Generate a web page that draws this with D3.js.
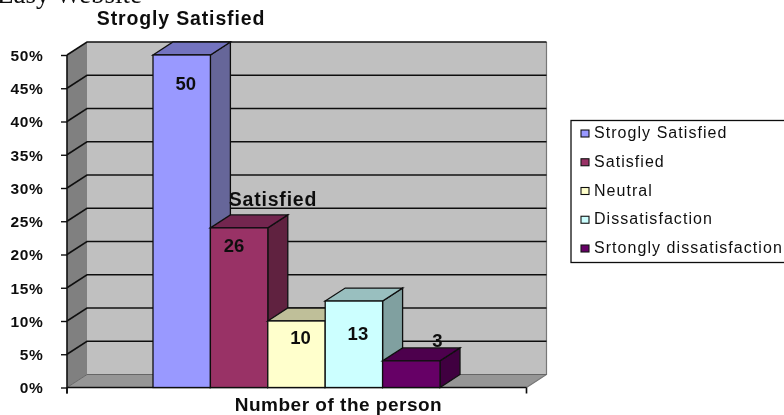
<!DOCTYPE html>
<html><head><meta charset="utf-8">
<script src="https://cdn.jsdelivr.net/npm/d3@7"></script>
<style>html,body{margin:0;padding:0;background:#fff}svg{display:block}text{font-family:"Liberation Sans",Arial,sans-serif}</style>
</head><body><svg id="c" width="784" height="415"></svg>
<script>
const categories=["Strogly Satisfied","Satisfied","Neutral","Dissatisfaction","Srtongly dissatisfaction"];
const barValues=[50,24,10,13,4];
const valueLabels=[50,26,10,13,3];
const yTicks=[0,5,10,15,20,25,30,35,40,45,50];
const frontColors=["#9999ff","#993366","#ffffcc","#ccffff","#660066"];
const topColors=["#7373bf","#732650","#bfbf99","#99bfbf","#4d004d"];
const sideColors=["#666699","#602040","#a0a080","#80a0a0","#400040"];
const calloutLabels=[{cat:0,text:"Strogly Satisfied"},{cat:1,text:"Satisfied"}];

const svg=d3.select("#c");
const defs=svg.append("defs");
defs.append("filter").attr("id","soft").attr("filterUnits","userSpaceOnUse").attr("x",-20).attr("y",-20).attr("width",830).attr("height",460)
  .append("feGaussianBlur").attr("stdDeviation",0.55);
const root=svg.append("g").attr("filter","url(#soft)");

const dx=20,dy=-13;
const y=d3.scaleLinear().domain([0,50]).range([387.5,55]);
const x=d3.scaleBand().domain(categories).range([153,440]).padding(0);
const xL=67,xR=526.5;
const line=d3.line();
const poly=(g,pts,fill,stroke,w)=>g.append("path").attr("d",line(pts)+"Z").attr("fill",fill)
  .attr("stroke",stroke||"none").attr("stroke-width",w||0);

// Clipped page text at the very top
root.append("text").attr("x",-3).attr("y",3).attr("font-size",27).style("font-family","Liberation Serif")
  .attr("fill","#111").text("Easy Website");

// Walls and floor
poly(root,[[xL+dx,y(50)+dy],[xR+dx,y(50)+dy],[xR+dx,y(0)+dy],[xL+dx,y(0)+dy]],"#c0c0c0");
poly(root,[[xL,y(50)],[xL+dx,y(50)+dy],[xL+dx,y(0)+dy],[xL,y(0)]],"#808080");
poly(root,[[xL,y(0)],[xL+dx,y(0)+dy],[xR+dx,y(0)+dy],[xR,y(0)]],"#969696");
root.append("path").attr("d",line([[xR+dx,y(50)+dy],[xR+dx,y(0)+dy],[xR,y(0)]])).attr("fill","none").attr("stroke","#777").attr("stroke-width",1.2);

// Gridlines along side wall and back wall
yTicks.forEach(t=>{
  root.append("path").attr("fill","none").attr("stroke",t===0?"#666":"#111").attr("stroke-width",t===0?1:1.6)
    .attr("d",line([[xL,y(t)],[xL+dx,y(t)+dy],[xR+dx,y(t)+dy]]));
});

// Axes
const yAxis=d3.axisLeft(y).tickValues(yTicks).tickSize(6).tickFormat(d=>d+"%");
const ya=root.append("g").attr("transform",`translate(${xL},0)`).call(yAxis);
ya.select(".domain").attr("stroke","#111").attr("stroke-width",1.6).attr("d",`M0,${y(50)}V${y(0)+6}`);
ya.selectAll(".tick line").attr("stroke","#111").attr("stroke-width",1.4);
ya.selectAll(".tick text").attr("x",-23.5).attr("text-anchor","end").attr("font-size",15.5).attr("font-weight","bold")
  .attr("fill","#111").style("font-family","Liberation Sans").attr("letter-spacing",0.7).attr("dy","0.34em");
const xa=root.append("g").attr("transform",`translate(0,${y(0)})`);
xa.append("path").attr("fill","none").attr("stroke","#111").attr("stroke-width",1.6)
  .attr("d",`M${xL},0H${xR}M${xR},0V6M${xL},0V6`);

// Bars drawn left to right
const bars=root.selectAll("g.bar").data(categories).join("g").attr("class","bar");
bars.each(function(c,i){
  const g=d3.select(this), x0=x(c), x1=x0+x.bandwidth(), yt=y(barValues[i]), yb=y(0), k="#111";
  poly(g,[[x1,yt],[x1+dx,yt+dy],[x1+dx,yb+dy],[x1,yb]],sideColors[i],k,1.3);
  poly(g,[[x0,yt],[x0+dx,yt+dy],[x1+dx,yt+dy],[x1,yt]],topColors[i],k,1.3);
  g.append("rect").attr("x",x0).attr("y",yt).attr("width",x.bandwidth()).attr("height",yb-yt)
    .attr("fill",frontColors[i]).attr("stroke",k).attr("stroke-width",1.3);
});

// Value labels
const labelDy=[35,24,23,39,-14];
const labelDx=[4,-5,4,4,26];
root.selectAll("text.val").data(valueLabels).join("text").attr("class","val")
  .attr("x",(d,i)=>x(categories[i])+x.bandwidth()/2+labelDx[i])
  .attr("y",(d,i)=>y(barValues[i])+labelDy[i])
  .attr("text-anchor","middle").attr("font-size",18.5).attr("font-weight","bold").attr("fill","#111").text(d=>d);

// Series callouts and titles
root.append("text").attr("x",181).attr("y",25).attr("text-anchor","middle").attr("font-size",19.5).attr("font-weight","bold").attr("fill","#111").attr("letter-spacing",0.85).text(calloutLabels[0].text);
root.append("text").attr("x",273).attr("y",206).attr("text-anchor","middle").attr("font-size",19.5).attr("font-weight","bold").attr("fill","#111").attr("letter-spacing",0.8).text(calloutLabels[1].text);
root.append("text").attr("x",338.5).attr("y",411).attr("text-anchor","middle").attr("font-size",19).attr("font-weight","bold").attr("fill","#111").attr("letter-spacing",0.5).text("Number of the person");

// Legend
const lg=root.append("g");
lg.append("rect").attr("x",571).attr("y",120.5).attr("width",220).attr("height",142).attr("fill","#fff").attr("stroke","#111").attr("stroke-width",1.3);
const legY=d3.scalePoint().domain(categories).range([133,248]);
const item=lg.selectAll("g").data(categories).join("g").attr("transform",d=>`translate(0,${legY(d)})`);
item.append("rect").attr("x",581).attr("y",-3).attr("width",8).attr("height",7)
  .attr("fill",(d,i)=>frontColors[i]).attr("stroke","#111").attr("stroke-width",1.1);
item.append("text").attr("x",594).attr("y",5).attr("font-size",16).attr("fill","#111").attr("letter-spacing",1.05).text(d=>d);
</script></body></html>
